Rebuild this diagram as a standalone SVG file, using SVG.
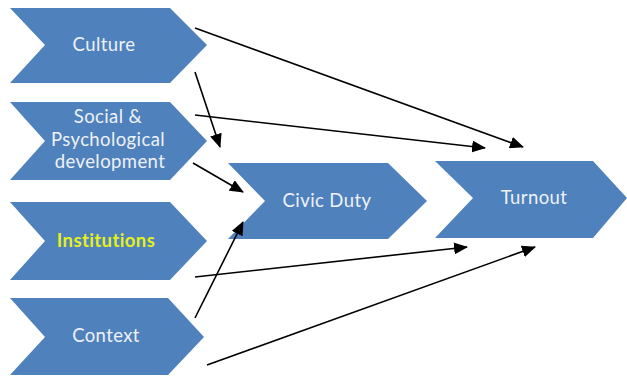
<svg xmlns="http://www.w3.org/2000/svg" width="627" height="379" viewBox="0 0 627 379">
  <defs>
    <style>
      .chev { fill: #4f81bd; }
      .lbl { font-family: Lato, "Open Sans", "Liberation Sans", sans-serif; font-size: 18.5px; letter-spacing: 0.4px; fill: #eef2f8; text-anchor: middle; }
      .hi { fill: #e6f01a; font-weight: bold; }
      .edge { stroke: #000; stroke-width: 1.6; fill: none; marker-end: url(#head); }
    </style>
    <marker id="head" markerUnits="userSpaceOnUse" markerWidth="14" markerHeight="12" refX="13" refY="6" orient="auto">
      <path d="M0,0 L14,6 L0,12 Z" fill="#000"/>
    </marker>
  </defs>
  <rect width="627" height="379" fill="#fff"/>

  <g id="culture">
    <polygon class="chev" points="10,8 170,8 207,45 170,83 10,83 45,45"/>
    <text class="lbl" x="104" y="51">Culture</text>
  </g>
  <g id="social">
    <polygon class="chev" points="10,102 170,102 207,141 170,180 10,180 45,141"/>
    <text class="lbl" x="108" y="123">Social &amp;</text>
    <text class="lbl" x="108" y="146">Psychological</text>
    <text class="lbl" x="110" y="168">development</text>
  </g>
  <g id="institutions">
    <polygon class="chev" points="10,202 170,202 207,241 170,280 10,280 45,241"/>
    <text class="lbl hi" x="106" y="247">Institutions</text>
  </g>
  <g id="context">
    <polygon class="chev" points="10,298 168,298 204,337 168,375 10,375 45,337"/>
    <text class="lbl" x="106" y="342">Context</text>
  </g>
  <g id="civic-duty">
    <polygon class="chev" points="228,163 388,163 427,201 388,239 228,239 265,201"/>
    <text class="lbl" x="327" y="207">Civic Duty</text>
  </g>
  <g id="turnout">
    <polygon class="chev" points="435,161 593,161 627,198 593,238 435,238 473,198"/>
    <text class="lbl" x="534" y="204">Turnout</text>
  </g>

  <g id="connectors">
    <line class="edge" x1="195" y1="28" x2="523" y2="147"/>
    <line class="edge" x1="195" y1="72" x2="220" y2="147"/>
    <line class="edge" x1="195" y1="115" x2="485" y2="148"/>
    <line class="edge" x1="193" y1="163" x2="243" y2="192"/>
    <line class="edge" x1="195" y1="318" x2="243" y2="222"/>
    <line class="edge" x1="195" y1="277" x2="467" y2="247"/>
    <line class="edge" x1="207" y1="365" x2="535" y2="247"/>
  </g>
</svg>
